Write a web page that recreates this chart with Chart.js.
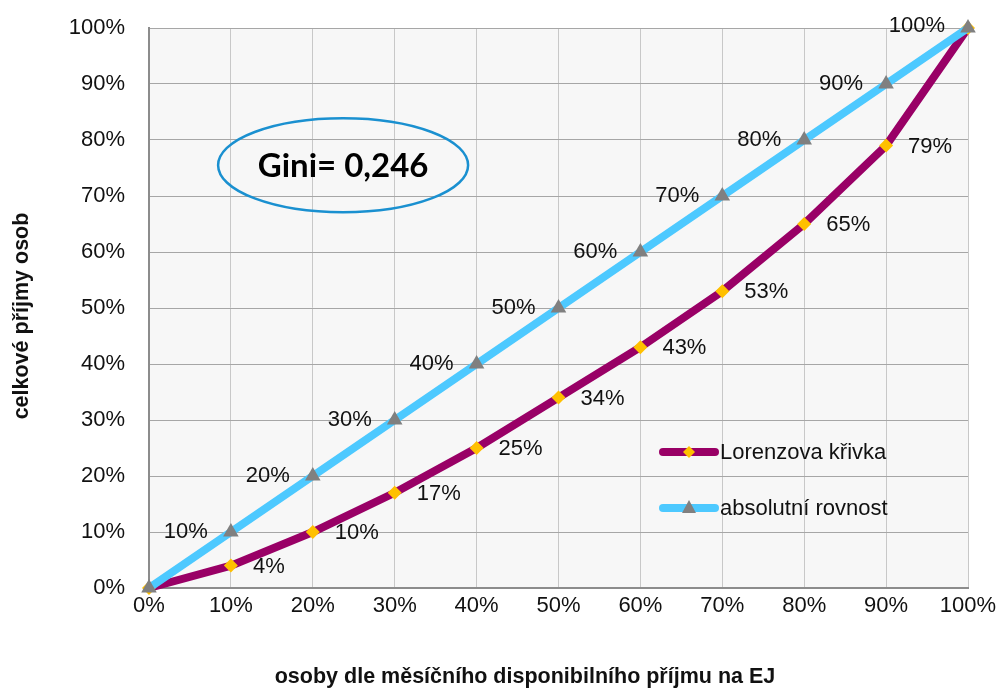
<!DOCTYPE html>
<html>
<head>
<meta charset="utf-8">
<script src="https://cdn.jsdelivr.net/npm/chart.js@4"></script>
<style>
  html, body { margin: 0; padding: 0; background: #fff; }
  #wrap { width: 998px; height: 689px; }
</style>
</head>
<body>
<div id="wrap"><canvas id="c" width="998" height="689"></canvas></div>
<script>
// ── Data ──────────────────────────────────────────────
const shares   = [0, 10, 20, 30, 40, 50, 60, 70, 80, 90, 100];   // osoby (%)
const lorenz   = [0, 4, 10, 17, 25, 34, 43, 53, 65, 79, 100];    // Lorenzova křivka
const equality = [0, 10, 20, 30, 40, 50, 60, 70, 80, 90, 100];   // absolutní rovnost
const seriesNames = ['Lorenzova křivka', 'absolutní rovnost'];
const xTitle = 'osoby dle měsíčního disponibilního příjmu na EJ';
const yTitle = 'celkové příjmy osob';
const giniText = 'Gini= 0,246';
const giniPos  = { x: 23.7, y: 75.5 };

const NARROW = "'Liberation Sans Narrow', 'Liberation Sans', Arial, sans-serif";
const LORENZ_COL = '#990066';
const EQUAL_COL  = '#4dc9ff';

const toXY = ys => shares.map((x, i) => ({ x, y: ys[i] }));

// plot background
const bgPlugin = {
  id: 'bg',
  beforeDraw(chart) {
    const { ctx, chartArea: a } = chart;
    ctx.save();
    ctx.fillStyle = '#f7f7f7';
    ctx.fillRect(a.left, a.top, a.right - a.left, a.bottom - a.top);
    ctx.restore();
  }
};

// point labels, gini ellipse, legend, axis titles
const extrasPlugin = {
  id: 'extras',
  afterDatasetsDraw(chart) {
    const { ctx, chartArea: a, scales: { x, y } } = chart;
    ctx.save();
    ctx.font = '22px ' + NARROW;
    ctx.fillStyle = '#111';
    ctx.textBaseline = 'middle';

    // equality labels: left of the point
    ctx.textAlign = 'right';
    equality.forEach((v, i) => {
      if (i === 0) return;
      const px = x.getPixelForValue(shares[i]);
      const py = y.getPixelForValue(v);
      ctx.fillText(v + '%', px - 23, py + (i === 10 ? -2 : 0));
    });
    // lorenz labels: right of the point
    ctx.textAlign = 'left';
    lorenz.forEach((v, i) => {
      if (i === 0 || i === lorenz.length - 1) return;
      const px = x.getPixelForValue(shares[i]);
      const py = y.getPixelForValue(v);
      ctx.fillText(v + '%', px + 22, py + 1);
    });

    // gini ellipse
    const gx = x.getPixelForValue(giniPos.x);
    const gy = y.getPixelForValue(giniPos.y);
    ctx.beginPath();
    ctx.ellipse(gx, gy, 125, 47, 0, 0, Math.PI * 2);
    ctx.strokeStyle = '#1a90d0';
    ctx.lineWidth = 2.5;
    ctx.stroke();
    ctx.font = "bold 33px Lato, 'Open Sans', sans-serif";
    ctx.textAlign = 'center';
    ctx.fillStyle = '#000';
    ctx.fillText(giniText, gx, gy + 1);

    // legend
    const items = [
      { label: seriesNames[0], color: LORENZ_COL, marker: 'diamond' },
      { label: seriesNames[1], color: EQUAL_COL, marker: 'triangle' }
    ];
    const lx = a.left + 510, ly0 = a.top + 424;
    items.forEach((it, k) => {
      const ly = ly0 + k * 56;
      ctx.beginPath();
      ctx.moveTo(lx + 4, ly);
      ctx.lineTo(lx + 56, ly);
      ctx.lineCap = 'round';
      ctx.lineWidth = 8;
      ctx.strokeStyle = it.color;
      ctx.stroke();
      const mx = lx + 30;
      ctx.beginPath();
      if (it.marker === 'diamond') {
        ctx.moveTo(mx, ly - 6); ctx.lineTo(mx + 6, ly);
        ctx.lineTo(mx, ly + 6); ctx.lineTo(mx - 6, ly);
        ctx.fillStyle = '#ffc000';
      } else {
        ctx.moveTo(mx, ly - 8); ctx.lineTo(mx + 7, ly + 5); ctx.lineTo(mx - 7, ly + 5);
        ctx.fillStyle = '#808080';
      }
      ctx.closePath();
      ctx.fill();
      ctx.font = '22px ' + NARROW;
      ctx.textAlign = 'left';
      ctx.fillStyle = '#111';
      ctx.fillText(it.label, lx + 61, ly + 1);
    });

    // axis titles (Excel places them slightly off-centre)
    ctx.fillStyle = '#111';
    ctx.textAlign = 'center';
    ctx.font = 'bold 21.5px ' + NARROW;
    ctx.fillText(xTitle, a.left + 376, a.bottom + 89);
    ctx.translate(22, a.top + 288);
    ctx.rotate(-Math.PI / 2);
    ctx.fillText(yTitle, 0, 0);
    ctx.restore();
  }
};

new Chart(document.getElementById('c'), {
  type: 'line',
  data: {
    datasets: [
      {
        label: seriesNames[1],
        data: toXY(equality),
        borderColor: EQUAL_COL,
        borderWidth: 8,
        pointStyle: 'triangle',
        pointRadius: 9,
        pointBackgroundColor: '#808080',
        pointBorderWidth: 0,
        tension: 0,
        clip: false
      },
      {
        label: seriesNames[0],
        data: toXY(lorenz),
        borderColor: LORENZ_COL,
        borderWidth: 8,
        pointStyle: 'rectRot',
        pointRadius: 7,
        pointBackgroundColor: '#ffc000',
        pointBorderWidth: 0,
        tension: 0,
        clip: false
      }
    ]
  },
  options: {
    responsive: false,
    animation: false,
    layout: { padding: { top: 28, right: 30, left: 0, bottom: 0 } },
    plugins: { legend: { display: false }, tooltip: { enabled: false } },
    scales: {
      x: {
        type: 'linear', min: 0, max: 100,
        afterFit: s => { s.height = 101; s.paddingLeft = 0; s.paddingRight = 0; },
        ticks: { stepSize: 10, padding: 5, color: '#111', font: { family: NARROW, size: 22 }, callback: v => v + '%', maxRotation: 0 },
        grid: { color: '#c8c8c8', lineWidth: 1, drawTicks: false },
        border: { color: '#8c8c8c', width: 2 }
      },
      y: {
        type: 'linear', min: 0, max: 100,
        afterFit: s => { s.width = 149; s.paddingTop = 0; s.paddingBottom = 0; },
        ticks: { stepSize: 10, padding: 24, color: '#111', font: { family: NARROW, size: 22 }, callback: v => v + '%' },
        grid: { color: '#a6a6a6', lineWidth: 1, drawTicks: false },
        border: { color: '#8c8c8c', width: 2 }
      }
    }
  },
  plugins: [bgPlugin, extrasPlugin]
});
</script>
</body>
</html>
